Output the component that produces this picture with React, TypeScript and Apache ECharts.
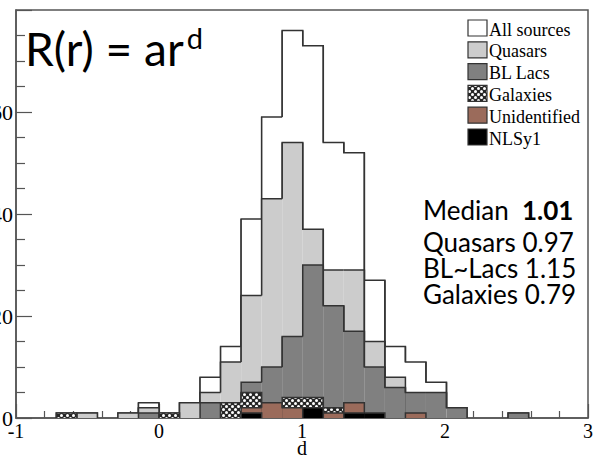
import React, { useEffect, useRef } from 'react';
import * as echarts from 'echarts';

// Histogram bins: left edge = index * BIN_WIDTH (in d units)
const BIN_WIDTH = 0.1436;
const BIN_INDEX = [-7, -6, -5, -4, -3, -2, -1, 0, 1, 2, 3, 4, 5, 6, 7, 8, 9, 10, 11, 12, 13, 14, 15, 16, 17];

// Counts per bin (each histogram drawn from zero, later ones on top)
const ALL_SOURCES = [0, 0, 1, 1, 0, 1, 3, 1, 3, 8, 14, 39, 59, 76, 73, 54, 52, 27, 14, 11, 7, 2, 0, 0, 1];
const QUASARS = [0, 0, 0, 1, 0, 1, 2, 0, 3, 5, 11, 24, 43, 54, 37, 29, 29, 15, 8, 0, 0, 0, 0, 0, 0];
const BL_LACS = [0, 0, 0, 0, 0, 0, 1, 0, 0, 3, 0, 7, 10, 16, 30, 22, 17, 10, 6, 5, 5, 2, 0, 0, 1];
const GALAXIES = [0, 0, 1, 0, 0, 0, 0, 1, 0, 0, 3, 5, 0, 4, 4, 2, 0, 0, 0, 0, 0, 0, 0, 0, 0];
const UNIDENTIFIED = [0, 0, 0, 0, 0, 0, 0, 0, 0, 0, 0, 2, 3, 2, 0, 1, 3, 0, 0, 1, 0, 0, 0, 0, 0];
const NLSY1 = [0, 0, 0, 0, 0, 0, 0, 0, 0, 0, 0, 1, 0, 0, 2, 0, 1, 1, 0, 0, 0, 0, 0, 0, 0];

const SERIES_NAMES = ['All sources', 'Quasars', 'BL Lacs', 'Galaxies', 'Unidentified', 'NLSy1'];
const X_TICKS = [-1, 0, 1, 2, 3];
const Y_TICKS = [0, 20, 40, 60, 80];
const MEDIAN_LINES = [
  ['Median', '1.01'],
  ['Quasars', '0.97'],
  ['BL~Lacs', '1.15'],
  ['Galaxies', '0.79'],
];

const STROKE = '#333333';
const SERIF = '"Liberation Serif", "Times New Roman", serif';
const SANS = 'Lato, "Open Sans", sans-serif';

function makePattern() {
  const c = document.createElement('canvas');
  c.width = 6;
  c.height = 6;
  const ctx = c.getContext('2d')!;
  ctx.fillStyle = '#262626';
  ctx.fillRect(0, 0, 6, 6);
  ctx.fillStyle = '#ffffff';
  [[1.5, 1.5], [4.5, 4.5]].forEach(([x, y]) => {
    ctx.beginPath();
    ctx.arc(x, y, 1.5, 0, Math.PI * 2);
    ctx.fill();
  });
  return { image: c.toDataURL(), repeat: 'repeat', imageWidth: 6, imageHeight: 6 } as any;
}

function histSeries(name: string, counts: number[], fill: any, z: number) {
  const data = BIN_INDEX.map((k, i) => [k * BIN_WIDTH, (k + 1) * BIN_WIDTH, counts[i], i]).filter((d) => d[2] > 0);
  return {
    type: 'custom',
    name,
    z,
    silent: true,
    encode: { x: [0, 1], y: 2 },
    data,
    renderItem: (params: any, api: any) => {
      const x0 = api.value(0);
      const x1 = api.value(1);
      const v = api.value(2);
      const i = api.value(3);
      const prev = i > 0 ? counts[i - 1] : 0;
      const next = i < counts.length - 1 ? counts[i + 1] : 0;
      const pBL = api.coord([x0, 0]);
      const pTR = api.coord([x1, v]);
      const yPrev = api.coord([x0, prev])[1];
      const yNext = api.coord([x1, next])[1];
      return {
        type: 'group',
        children: [
          {
            type: 'rect',
            shape: { x: pBL[0], y: pTR[1], width: pTR[0] - pBL[0], height: pBL[1] - pTR[1] },
            style: { fill, stroke: null },
          },
          {
            type: 'polyline',
            shape: {
              points: [
                [pBL[0], yPrev],
                [pBL[0], pTR[1]],
                [pTR[0], pTR[1]],
                [pTR[0], yNext],
              ],
            },
            style: { stroke: STROKE, lineWidth: 1.5, fill: null },
          },
        ],
      };
    },
  };
}

export default function App() {
  const ref = useRef<HTMLDivElement>(null);
  useEffect(() => {
    document.body.style.margin = '0';
    const chart = echarts.init(ref.current!, null, { renderer: 'svg' });
    const pattern = makePattern();
    const fills = ['#ffffff', '#cccccc', '#808080', pattern, '#9b6b5b', '#000000'];
    const seriesCounts = [ALL_SOURCES, QUASARS, BL_LACS, GALAXIES, UNIDENTIFIED, NLSY1];

    const legendEls: any[] = [];
    SERIES_NAMES.forEach((name, i) => {
      const top = 20 + i * 21.8;
      legendEls.push({
        type: 'rect',
        shape: { x: 468, y: top, width: 19, height: 16 },
        style: { fill: fills[i], stroke: STROKE, lineWidth: 1.2 },
        z: 100,
      });
      legendEls.push({
        type: 'text',
        x: 489,
        y: top + 9.5,
        style: {
          text: name,
          fontFamily: SERIF,
          fontSize: 18,
          fill: '#000',
          align: 'left',
          verticalAlign: 'middle',
          textAlign: 'left',
          textVerticalAlign: 'middle',
        },
        z: 100,
      });
    });

    // one multi-line text block; the first line is taller
    const medianText = MEDIAN_LINES.map((l, i) =>
      i === 0 ? `{h|${l[0]}  }{hb|${l[1]}}` : `{r|${l[0]} ${l[1]}}`
    ).join('\n');
    const base = { fontFamily: SANS, fontSize: 26, fill: '#000' };
    const medianEl = {
      type: 'text',
      x: 423,
      y: 191,
      style: {
        text: medianText,
        ...base,
        align: 'left',
        verticalAlign: 'top',
        textAlign: 'left',
        textVerticalAlign: 'top',
        rich: {
          h: { ...base, lineHeight: 38 },
          hb: { ...base, fontWeight: 'bold', lineHeight: 38 },
          r: { ...base, lineHeight: 26 },
        },
      },
      z: 100,
    };

    // formula with superscript as one rich text
    const titleBase = { fontFamily: SANS, fill: '#000' };
    const titleEl = {
      type: 'text',
      x: 25,
      y: 23.2,
      style: {
        text: '{m|R(r) = ar}{s|d}',
        ...titleBase,
        fontSize: 46,
        align: 'left',
        verticalAlign: 'top',
        textAlign: 'left',
        textVerticalAlign: 'top',
        rich: {
          m: { ...titleBase, fontSize: 46, lineHeight: 50 },
          s: { ...titleBase, fontSize: 29, lineHeight: 29, verticalAlign: 'top', padding: [0, 0, 0, 3] },
        },
      },
      z: 100,
    };

    chart.setOption({
      animation: false,
      grid: {
        left: 16,
        right: 6,
        top: 10,
        bottom: 39,
        show: true,
        borderColor: '#555',
        borderWidth: 1.5,
        outerBoundsMode: 'none',
        containLabel: false,
      },
      xAxis: {
        type: 'value',
        min: X_TICKS[0],
        max: X_TICKS[X_TICKS.length - 1],
        interval: 1,
        name: 'd',
        nameLocation: 'middle',
        nameGap: 20,
        nameMoveOverlap: false,
        nameTextStyle: { fontFamily: SERIF, fontSize: 20, color: '#000' },
        axisLine: { show: true, onZero: false, lineStyle: { color: '#555', width: 1.5 } },
        axisTick: { show: true, inside: true, length: 14, lineStyle: { color: '#555', width: 1.2 } },
        minorTick: { show: true, splitNumber: 5, length: 7, lineStyle: { color: '#555', width: 1.2 } },
        axisLabel: { fontFamily: SERIF, fontSize: 20, color: '#000', margin: 3 },
        splitLine: { show: false },
      },
      yAxis: {
        type: 'value',
        min: Y_TICKS[0],
        max: Y_TICKS[Y_TICKS.length - 1],
        interval: 20,
        axisLine: { show: true, onZero: false, lineStyle: { color: '#555', width: 1.5 } },
        axisTick: { show: true, inside: true, length: 16, lineStyle: { color: '#555', width: 1.2 } },
        minorTick: { show: true, splitNumber: 4, length: 9, lineStyle: { color: '#555', width: 1.2 } },
        axisLabel: { fontFamily: SERIF, fontSize: 22, color: '#000', margin: 3, showMaxLabel: false },
        splitLine: { show: false },
      },
      series: SERIES_NAMES.map((n, i) => histSeries(n, seriesCounts[i], fills[i], 2 + i)),
      graphic: [titleEl, ...legendEls, medianEl],
    });
    return () => chart.dispose();
  }, []);
  return <div ref={ref} style={{ width: 594, height: 457 }} />;
}
